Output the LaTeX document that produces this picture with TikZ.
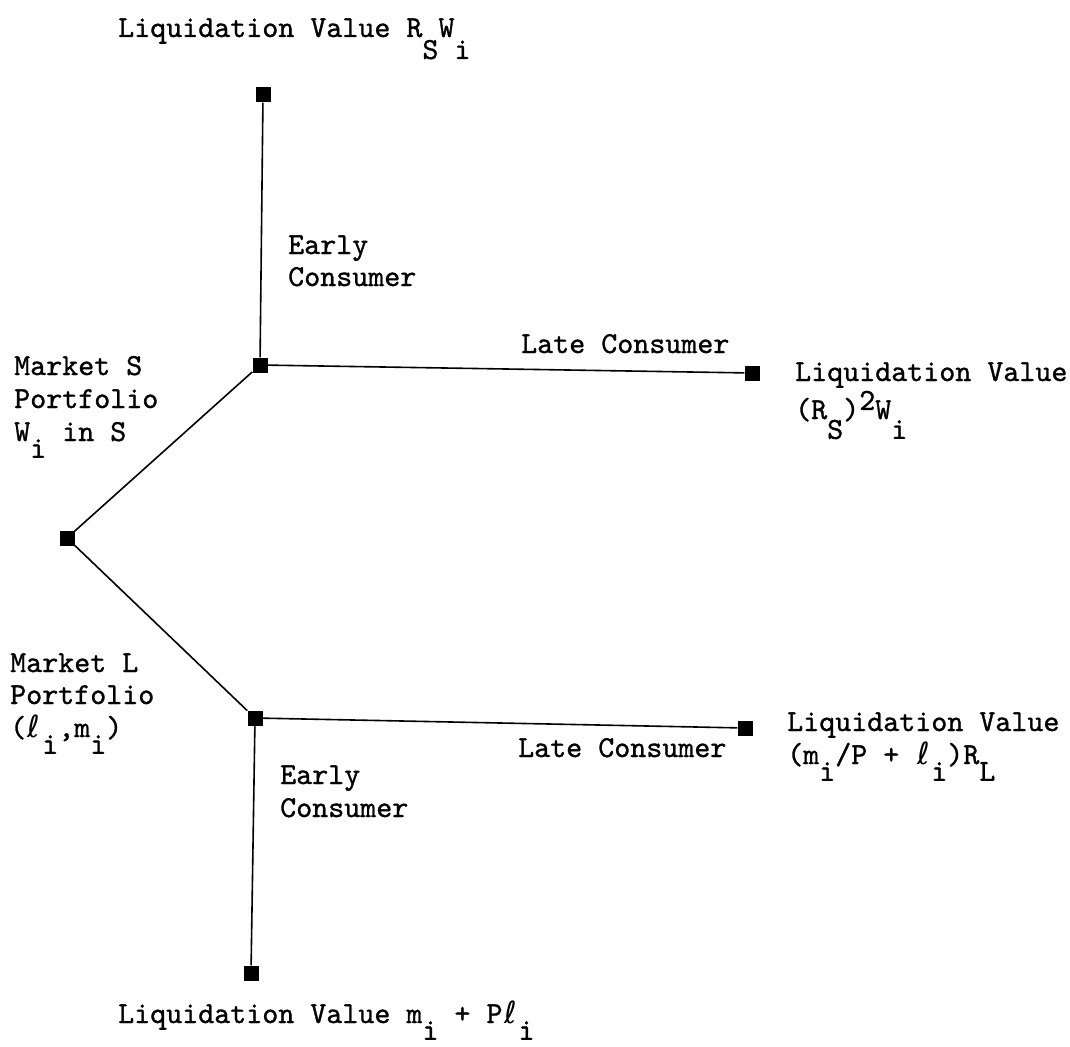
\documentclass[tikz,border=0pt]{standalone}
\usepackage{fontspec}
\setmonofont{lmmono10-regular.otf}[FakeBold=1]
\newfontfamily\ellfont{DejaVu Sans}
\newcommand\lowsub[2][0.65em]{\raisebox{-#1}{#2}}
\newcommand\highsup[1]{\raisebox{0.3em}{#1}}
\newcommand\scriptell{\makebox[0.525em]{\ellfont ℓ}}
\begin{document}
\begin{tikzpicture}[x=1pt,y=-1pt,
  sq/.style={rectangle,fill=black,draw=none,minimum size=15pt,inner sep=0pt},
  lbl/.style={font=\ttfamily\fontsize{30.5}{33}\selectfont,inner sep=0pt,anchor=base west},
  edge/.style={line width=1.6pt}]
\useasboundingbox (0,0) rectangle (1070,1046);
% squares
\node[sq] (root) at (67,538) {};
\node[sq] (sn) at (260,365) {};
\node[sq] (stop) at (263,95) {};
\node[sq] (slate) at (752,373) {};
\node[sq] (ln) at (255,718) {};
\node[sq] (llate) at (745,728) {};
\node[sq] (lbot) at (251,973) {};
% connectors
\draw[edge] (root) -- (sn);
\draw[edge] (sn) -- (stop);
\draw[edge] (sn) -- (slate);
\draw[edge] (root) -- (ln);
\draw[edge] (ln) -- (llate);
\draw[edge] (ln) -- (lbot);
% labels
\node[lbl] (tlv) at (118,37) {Liquidation Value R\lowsub[0.72em]{S}W\lowsub[0.72em]{i}};
\node[lbl] (seA) at (288,254) {Early};
\node[lbl] (seB) at (288,286) {Consumer};
\node[lbl] (slc) at (521,353) {Late Consumer};
\node[lbl] (slvA) at (795,381) {Liquidation Value};
\node[lbl] (slvB) at (795,419) {(R\lowsub{S})\highsup{2}W\lowsub{i}};
\node[lbl] (msA) at (14,375) {Market S};
\node[lbl] (msB) at (14,408) {Portfolio};
\node[lbl] (msC) at (14,441) {W\lowsub[0.55em]{i} in S};
\node[lbl] (mlA) at (10,672) {Market L};
\node[lbl] (mlB) at (10,704) {Portfolio};
\node[lbl] (mlC) at (10,737) {(\scriptell\lowsub[0.55em]{i},m\lowsub[0.55em]{i})};
\node[lbl] (llc) at (518,757) {Late Consumer};
\node[lbl] (llvA) at (787,731) {Liquidation Value};
\node[lbl] (llvB) at (787,764) {(m\lowsub[0.55em]{i}/P + \scriptell\lowsub[0.55em]{i})R\lowsub[0.55em]{L}};
\node[lbl] (leA) at (280,784) {Early};
\node[lbl] (leB) at (280,817) {Consumer};
\node[lbl] (blv) at (118,1023) {Liquidation Value m\lowsub[0.55em]{i} + P\scriptell\lowsub[0.55em]{i}};
\end{tikzpicture}
\end{document}
